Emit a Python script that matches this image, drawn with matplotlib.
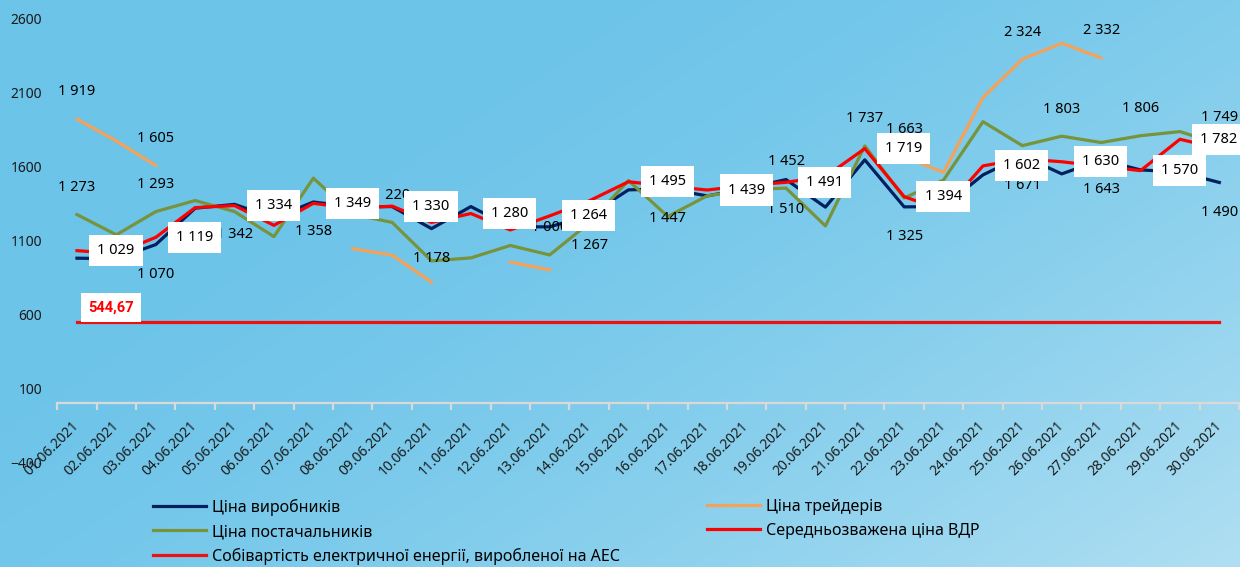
import numpy as np
import matplotlib.pyplot as plt

plt.rcParams['font.family'] = ['Noto Sans', 'DejaVu Sans']

nan = np.nan

dates = ['%02d.06.2021' % d for d in range(1, 31)]

# ціни за днями червня, грн/МВт*год
producers = [978, 975, 1070, 1316, 1342, 1250, 1358, 1325, 1327, 1178,
             1327, 1190, 1190, 1267, 1440, 1447, 1399, 1450, 1510, 1323,
             1643, 1325, 1327, 1541, 1671, 1548, 1643, 1575, 1560, 1490]
traders = [1919, 1770, 1605, nan, nan, nan, nan, 1043, 999, 816,
           nan, 951, 899, nan, nan, nan, nan, nan, nan, nan,
           nan, 1663, 1559, 2064, 2324, 2431, 2332, nan, nan, nan]
suppliers = [1273, 1136, 1293, 1368, 1293, 1124, 1519, 1275, 1220, 960,
             980, 1064, 1000, 1215, 1503, 1260, 1400, 1440, 1452, 1196,
             1737, 1385, 1507, 1901, 1739, 1803, 1760, 1806, 1834, 1749]
vdr = [1029, 1010, 1119, 1320, 1334, 1200, 1349, 1315, 1330, 1220,
       1280, 1169, 1264, 1365, 1495, 1465, 1439, 1470, 1491, 1530,
       1719, 1394, 1300, 1602, 1650, 1630, 1600, 1570, 1782, 1720]
nuclear = [544.67] * 30

# на яких днях стоять підписи (номер дня)
producers_lbl = [3, 5, 7, 10, 14, 16, 19, 22, 25, 27, 30]
suppliers_lbl = [1, 3, 9, 13, 19, 21, 26, 28, 30]
traders_lbl = [1, 3, 22, 25, 27]
vdr_lbl = [1, 3, 5, 7, 9, 11, 13, 15, 17, 19, 21, 22, 24, 26, 28, 29]


def fmt(v):
    return '{:,.0f}'.format(v).replace(',', ' ')


W, H = 1240, 567
fig = plt.figure(figsize=(W / 100, H / 100), dpi=100)

# градієнтне тло
bg = fig.add_axes([0, 0, 1, 1], zorder=-1)
gx, gy = np.meshgrid(np.linspace(0, 1, 400), np.linspace(0, 1, 200))
t = np.clip(gx * 0.65 + gy * 0.45 - 0.25, 0, 1) ** 1.6
c0 = np.array([108, 196, 233]) / 255
c1 = np.array([196, 231, 245]) / 255
img = c0 + (c1 - c0) * t[..., None]
bg.imshow(img, aspect='auto', extent=[0, 1, 0, 1])
bg.axis('off')

ax = fig.add_axes([57.3 / W, 1 - 462 / H, (1239 - 57.3) / W, (462 - 18.3) / H])
ax.patch.set_alpha(0)

x = np.arange(30)
lw = 2.3
l_prod, = ax.plot(x, producers, color='#002060', lw=lw, label='Ціна виробників', zorder=2)
l_trad, = ax.plot(x, traders, color='#F4A259', lw=lw, label='Ціна трейдерів', zorder=2.1)
l_supp, = ax.plot(x, suppliers, color='#77933C', lw=lw, label='Ціна постачальників', zorder=2.2)
l_vdr, = ax.plot(x, vdr, color='#FF0000', lw=lw, label='Середньозважена ціна ВДР', zorder=2.3)
l_nuc, = ax.plot(x, nuclear, color='#EE1111', lw=lw,
                 label='Собівартість електричної енергії, виробленої на АЕС', zorder=2.4)

fs = 10.5
for d in producers_lbl:
    ax.annotate(fmt(producers[d - 1]), (d - 1, producers[d - 1]), xytext=(0, -21.5),
                textcoords='offset points', ha='center', va='center', fontsize=fs, zorder=5)
for d in suppliers_lbl:
    ax.annotate(fmt(suppliers[d - 1]), (d - 1, suppliers[d - 1]), xytext=(0, 19.5),
                textcoords='offset points', ha='center', va='center', fontsize=fs, zorder=5)
for d in traders_lbl:
    ax.annotate(fmt(traders[d - 1]), (d - 1, traders[d - 1]), xytext=(0, 19.5),
                textcoords='offset points', ha='center', va='center', fontsize=fs, zorder=5)
for d in vdr_lbl:
    ax.annotate(fmt(vdr[d - 1]), (d - 1, vdr[d - 1]), xytext=(28, 0),
                textcoords='offset points', ha='center', va='center', fontsize=fs, zorder=6,
                bbox=dict(boxstyle='square,pad=0.55', fc='white', ec='none'))
ax.annotate('544,67', (0, nuclear[0]), xytext=(24.5, 10.5), textcoords='offset points',
            ha='center', va='center', fontsize=fs, color='#FF0000', fontweight='bold',
            family=['Roboto', 'DejaVu Sans'], zorder=6,
            bbox=dict(boxstyle='square,pad=0.5', fc='white', ec='none'))

ax.set_xlim(-0.5, 29.5)
ax.set_ylim(-400, 2600)
ax.set_yticks(range(-400, 2601, 500))
ax.tick_params(axis='y', length=0, pad=11, labelsize=10, labelcolor='#1a1a1a')

for s in ['left', 'right', 'top']:
    ax.spines[s].set_visible(False)
ax.spines['bottom'].set_position(('data', 0))
ax.spines['bottom'].set_color('#D9D9D9')
ax.spines['bottom'].set_linewidth(1.6)

ax.set_xticks(x)
ax.set_xticklabels(dates, rotation=45, ha='right', va='center', rotation_mode='anchor')
ax.set_xticks(np.arange(-0.5, 30, 1), minor=True)
ax.tick_params(axis='x', which='major', length=0, pad=15, labelsize=10, labelcolor='#1a1a1a')
ax.tick_params(axis='x', which='minor', length=5, width=1.6, color='#D9D9D9')

leg_kw = dict(frameon=False, fontsize=11.5, handlelength=3.3, handletextpad=0.4,
              labelspacing=0.5, borderaxespad=0, borderpad=0, loc='upper left')
fig.legend(handles=[l_prod, l_supp, l_nuc], bbox_to_anchor=(153 / W, 1 - 499 / H), **leg_kw)
fig.legend(handles=[l_trad, l_vdr], bbox_to_anchor=(707 / W, 1 - 499 / H), **leg_kw)

fig.savefig('out.png', dpi=100)
